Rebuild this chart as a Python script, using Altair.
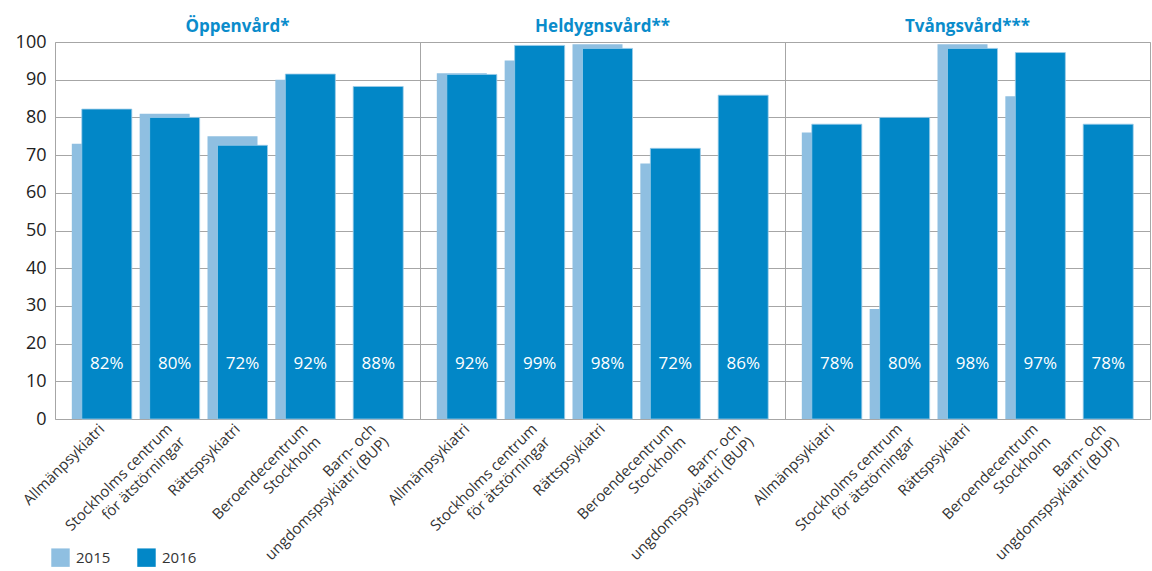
import altair as alt
import pandas as pd

panels = ["Öppenvård*", "Heldygnsvård**", "Tvångsvård***"]
categories = [
    "Allmänpsykiatri",
    "Stockholms centrum|för ätstörningar",
    "Rättspsykiatri",
    "Beroendecentrum|Stockholm",
    "Barn- och|ungdomspsykiatri (BUP)",
]
# values per panel, in category order (None = no bar)
v2015 = [
    [73, 81, 75, 90, None],
    [91.7, 95.1, 99.4, 67.8, None],
    [76, 29.2, 99.4, 85.6, None],
]
v2016 = [
    [82.2, 80, 72.6, 91.5, 88.2],
    [91.4, 99.1, 98.3, 71.8, 85.9],
    [78.2, 80, 98.3, 97.2, 78.2],
]
labels2016 = [
    ["82%", "80%", "72%", "92%", "88%"],
    ["92%", "99%", "98%", "72%", "86%"],
    ["78%", "80%", "98%", "97%", "78%"],
]
y_ticks = [0, 10, 20, 30, 40, 50, 60, 70, 80, 90, 100]
LABEL_Y = 14.5

LIGHT = "#8fbfe1"
DARK = "#0287c7"
FONT = "Open Sans"
TITLE_COLOR = "#0a8ccb"
Y_LABEL_SIZE = 18


def panel_chart(pi):
    rows = []
    for ci, c in enumerate(categories):
        if v2015[pi][ci] is not None:
            rows.append({"cat": c, "year": "2015", "value": v2015[pi][ci], "label": ""})
        rows.append({"cat": c, "year": "2016", "value": v2016[pi][ci], "label": labels2016[pi][ci]})
    df = pd.DataFrame(rows)
    first = pi == 0

    x_enc = alt.X(
        "cat:N",
        sort=categories,
        scale=alt.Scale(paddingInner=0, paddingOuter=0.19),
        axis=alt.Axis(
            title=None, labelAngle=-45, labelAlign="right", labelBaseline="middle",
            labelExpr="split(datum.label, '|')", labelFontSize=15, ticks=False,
            domain=False, labelPadding=7, labelLimit=400, labelColor="#333333",
            labelLineHeight=18, labelFont=FONT,
        ),
    )
    y_axis = alt.Axis(
        title=None, values=y_ticks, ticks=False, domain=False, labels=first,
        labelFontSize=Y_LABEL_SIZE, labelPadding=9, labelColor="#222222", gridColor="#a6a6a6",
        gridWidth=1, labelFont=FONT, labelOverlap=False, grid=True,
    )
    y_scale = alt.Scale(domain=[0, 100], nice=False, zero=True)
    y_enc = alt.Y("value:Q", scale=y_scale, axis=y_axis)
    color_enc = alt.Color(
        "year:N",
        scale=alt.Scale(domain=["2015", "2016"], range=[LIGHT, DARK]),
        legend=alt.Legend(
            title=None, orient="none", direction="horizontal", legendX=-4, legendY=506,
            symbolType="square", symbolSize=340, symbolStrokeWidth=0, labelFontSize=15,
            labelFont=FONT, labelColor="#333333", columnPadding=26, labelOffset=6,
        ) if first else None,
    )
    base = alt.Chart(df)
    b15 = base.transform_filter(alt.datum.year == "2015").mark_bar(
        width=50, xOffset=-5
    ).encode(x=x_enc, y=y_enc, color=color_enc)
    b16 = base.transform_filter(alt.datum.year == "2016").mark_bar(
        width=50, xOffset=5, stroke="#9ccbe9", strokeWidth=0.8
    ).encode(x=x_enc, y=y_enc, color=color_enc)
    txt = base.transform_filter(alt.datum.year == "2016").mark_text(
        xOffset=5, color="white", fontSize=17, font=FONT, baseline="middle"
    ).encode(x=x_enc, y=alt.YDatum(LABEL_Y, scale=y_scale, axis=y_axis), text="label:N")
    # first panel's "100" label sticks out above the plot; compensate so titles align
    offset = 6 - (Y_LABEL_SIZE // 2) if first else 6
    return alt.layer(b15, b16, txt).properties(
        width=365, height=377,
        title=alt.Title(panels[pi], fontSize=17, fontWeight="bold", color=TITLE_COLOR,
                        font=FONT, anchor="middle", offset=offset, frame="group"),
    )


chart = (
    alt.hconcat(*[panel_chart(i) for i in range(3)], spacing=0, bounds="flush")
    .resolve_scale(color="shared")
    .properties(padding={"left": 14, "top": 17, "right": 0, "bottom": 0})
    .configure_view(stroke="#a6a6a6", strokeWidth=1)
)

chart.save("out.html", embed_options={"renderer": "svg", "actions": False})
